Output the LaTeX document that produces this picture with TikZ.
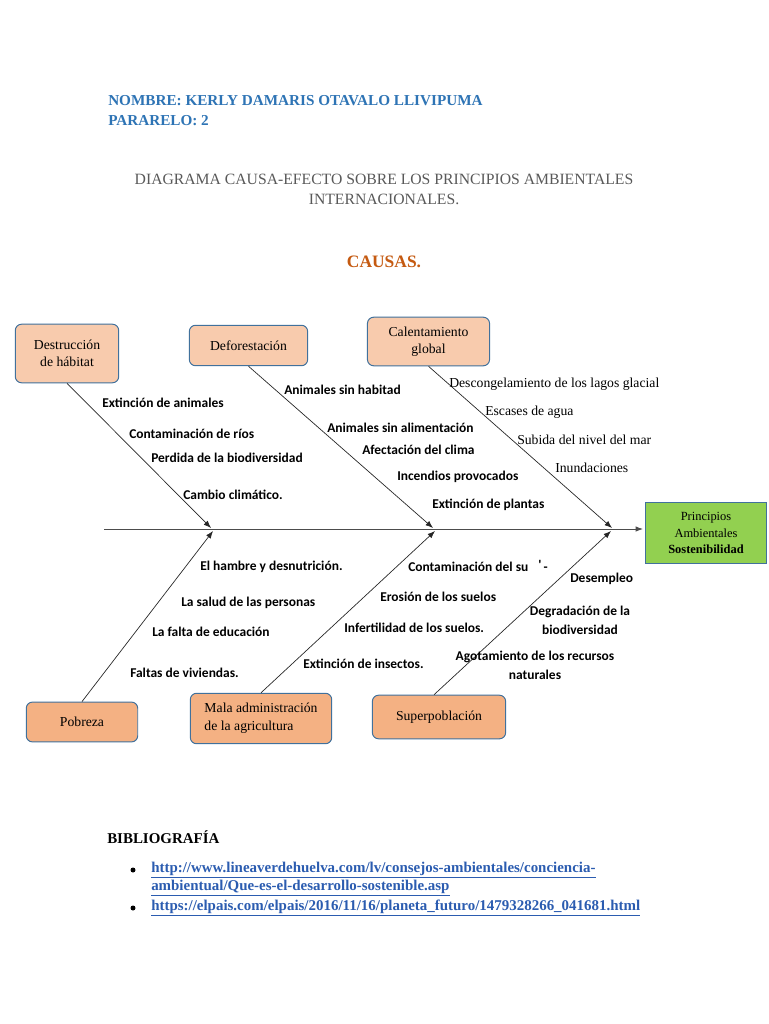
\documentclass[tikz,border=0pt]{standalone}
\usepackage{fontspec}
\setmainfont{Liberation Serif}
\newfontfamily\calib{Carlito}
\usetikzlibrary{arrows,arrows.meta}

\definecolor{nombreblue}{HTML}{2E74B5}
\definecolor{titlegray}{HTML}{595959}
\definecolor{causaorange}{HTML}{C55A11}
\definecolor{peachlight}{HTML}{F8CBAD}
\definecolor{peachdark}{HTML}{F4B183}
\definecolor{boxline}{HTML}{41719C}
\definecolor{efectogreen}{HTML}{92D050}
\definecolor{linkblue}{HTML}{2B5CB0}

\tikzset{
  causa/.style={draw=boxline,line width=0.8pt,rounded corners=5pt,align=center,
    inner sep=2pt,font=\fontsize{11}{14}\selectfont},
  rama/.style={draw=black!85,line width=0.55pt,-{Latex[length=6pt,width=4.5pt]}},
  subcausa/.style={anchor=west,inner sep=0pt,font=\calib\bfseries\fontsize{10.8}{13}\selectfont},
  subserif/.style={anchor=west,inner sep=0pt,font=\fontsize{11}{13}\selectfont},
  enlace/.style={anchor=west,inner sep=0pt,text=linkblue,font=\bfseries\fontsize{12}{14}\selectfont}
}

\begin{document}
\begin{tikzpicture}[x=0.02822cm,y=-0.02822cm]
    \useasboundingbox[fill=white] (0,0) rectangle (768,1024);

    % encabezado
    \node[anchor=west,inner sep=0pt,text=nombreblue,font=\bfseries\fontsize{12.2}{14}\selectfont]
      (nombre) at (108,101) {NOMBRE: KERLY DAMARIS OTAVALO LLIVIPUMA};
    \node[anchor=west,inner sep=0pt,text=nombreblue,font=\bfseries\fontsize{12.2}{14}\selectfont]
      (paralelo) at (108,121) {PARARELO: 2};
    \node[anchor=center,align=center,text=titlegray,font=\fontsize{12.6}{16}\selectfont]
      (titulo) at (384,189) {DIAGRAMA CAUSA-EFECTO SOBRE LOS PRINCIPIOS AMBIENTALES\\INTERNACIONALES.};
    \node[anchor=center,text=causaorange,font=\bfseries\fontsize{14}{16}\selectfont]
      (causas) at (384,262) {CAUSAS.};

    % cajas de causas
    \node[causa,fill=peachlight,minimum width=83pt,minimum height=47pt] (destruccion) at (67,353.5)
      {Destrucción\\de hábitat};
    \node[causa,fill=peachlight,minimum width=95pt,minimum height=32.5pt] (deforestacion) at (248.5,345.5)
      {Deforestación};
    \node[causa,fill=peachlight,minimum width=98pt,minimum height=39pt] (calentamiento) at (428.5,341.5)
      {Calentamiento\\global};
    \node[causa,fill=peachdark,minimum width=89.5pt,minimum height=32pt] (pobreza) at (82,722)
      {Pobreza};
    \node[causa,fill=peachdark,minimum width=113.5pt,minimum height=40.5pt,align=left,
      font=\fontsize{11}{14.5}\selectfont] (agricultura) at (261,718.5)
      {Mala administración\\de la agricultura};
    \node[causa,fill=peachdark,minimum width=107pt,minimum height=35pt] (superpoblacion) at (439,717)
      {Superpoblación};

    % efecto
    \node[draw=boxline,line width=0.8pt,fill=efectogreen,minimum width=97.5pt,minimum height=49.5pt,
      inner sep=1pt,align=center,font=\fontsize{10}{13.2}\selectfont] (efecto) at (706,533)
      {Principios\\Ambientales\\\textbf{Sostenibilidad}};

    % espina
    \coordinate (espina0) at (104,529);
    \coordinate (espina1) at (643,529);
    \draw[line width=0.8pt,draw=black!70,-{Latex[length=6pt,width=4.5pt]}] (espina0) -- (espina1);

    \coordinate (p1) at (211,528);
    \coordinate (p2) at (433,528);
    \coordinate (p3) at (612,528);
    \coordinate (q1) at (213,531);
    \coordinate (q2) at (435,531);
    \coordinate (q3) at (611,531);

    \draw[rama] (destruccion.south) -- (p1);
    \draw[rama] (deforestacion.south) -- (p2);
    \draw[rama] (calentamiento.south) -- (p3);
    \draw[rama] (pobreza.north) -- (q1);
    \draw[rama] (agricultura.north) -- (q2);
    \draw[rama] ([xshift=-4]superpoblacion.north) -- (q3);

    % subcausas
    \foreach \x/\y/\t in {102/403/Extinción de animales,129/434/Contaminación de ríos,
        151/458/Perdida de la biodiversidad,183/495/Cambio climático.,
        284/390/Animales sin habitad,327/428/Animales sin alimentación,
        362/450/Afectación del clima,397/477/Incendios provocados,432/505/Extinción de plantas,
        200/567/El hambre y desnutrición.,181/603/La salud de las personas,
        152/632/La falta de educación,130/673/Faltas de viviendas.,
        408/566/{Contaminación del su\hspace{8pt}\raisebox{2pt}{'}\,-},380/597/Erosión de los suelos,
        344/628/Infertilidad de los suelos.,303/664/Extinción de insectos.,570/579/Desempleo}
    \node[subcausa] at (\x,\y) {\t};

    \foreach \x/\y/\t in {449/384/Descongelamiento de los lagos glacial,485/412/Escases de agua,
        517/440/Subida del nivel del mar,555/468/Inundaciones}
    \node[subserif] at (\x,\y) {\t};

    \node[anchor=center,align=center,inner sep=0pt,font=\calib\bfseries\fontsize{10.8}{15}\selectfont]
      (degradacion) at (580,620) {Degradación de la\\biodiversidad};
    \node[anchor=center,align=center,inner sep=0pt,font=\calib\bfseries\fontsize{10.8}{15}\selectfont]
      (agotamiento) at (535,665) {Agotamiento de los recursos\\naturales};

    % bibliografia
    \node[anchor=west,inner sep=0pt,font=\bfseries\fontsize{12}{14}\selectfont]
      (biblio) at (107,837) {BIBLIOGRAFÍA};
    \foreach \y in {870,908}
    \fill (133,\y) circle (2.5);
    \node[enlace] (url1a) at (151,870) {\underline{http://www.lineaverdehuelva.com/lv/consejos-ambientales/conciencia-}};
    \node[enlace] (url1b) at (151,888) {\underline{ambientual/Que-es-el-desarrollo-sostenible.asp}};
    \node[enlace] (url2) at (151,908) {\underline{https://elpais.com/elpais/2016/11/16/planeta\_futuro/1479328266\_041681.html}};

\end{tikzpicture}
\end{document}
